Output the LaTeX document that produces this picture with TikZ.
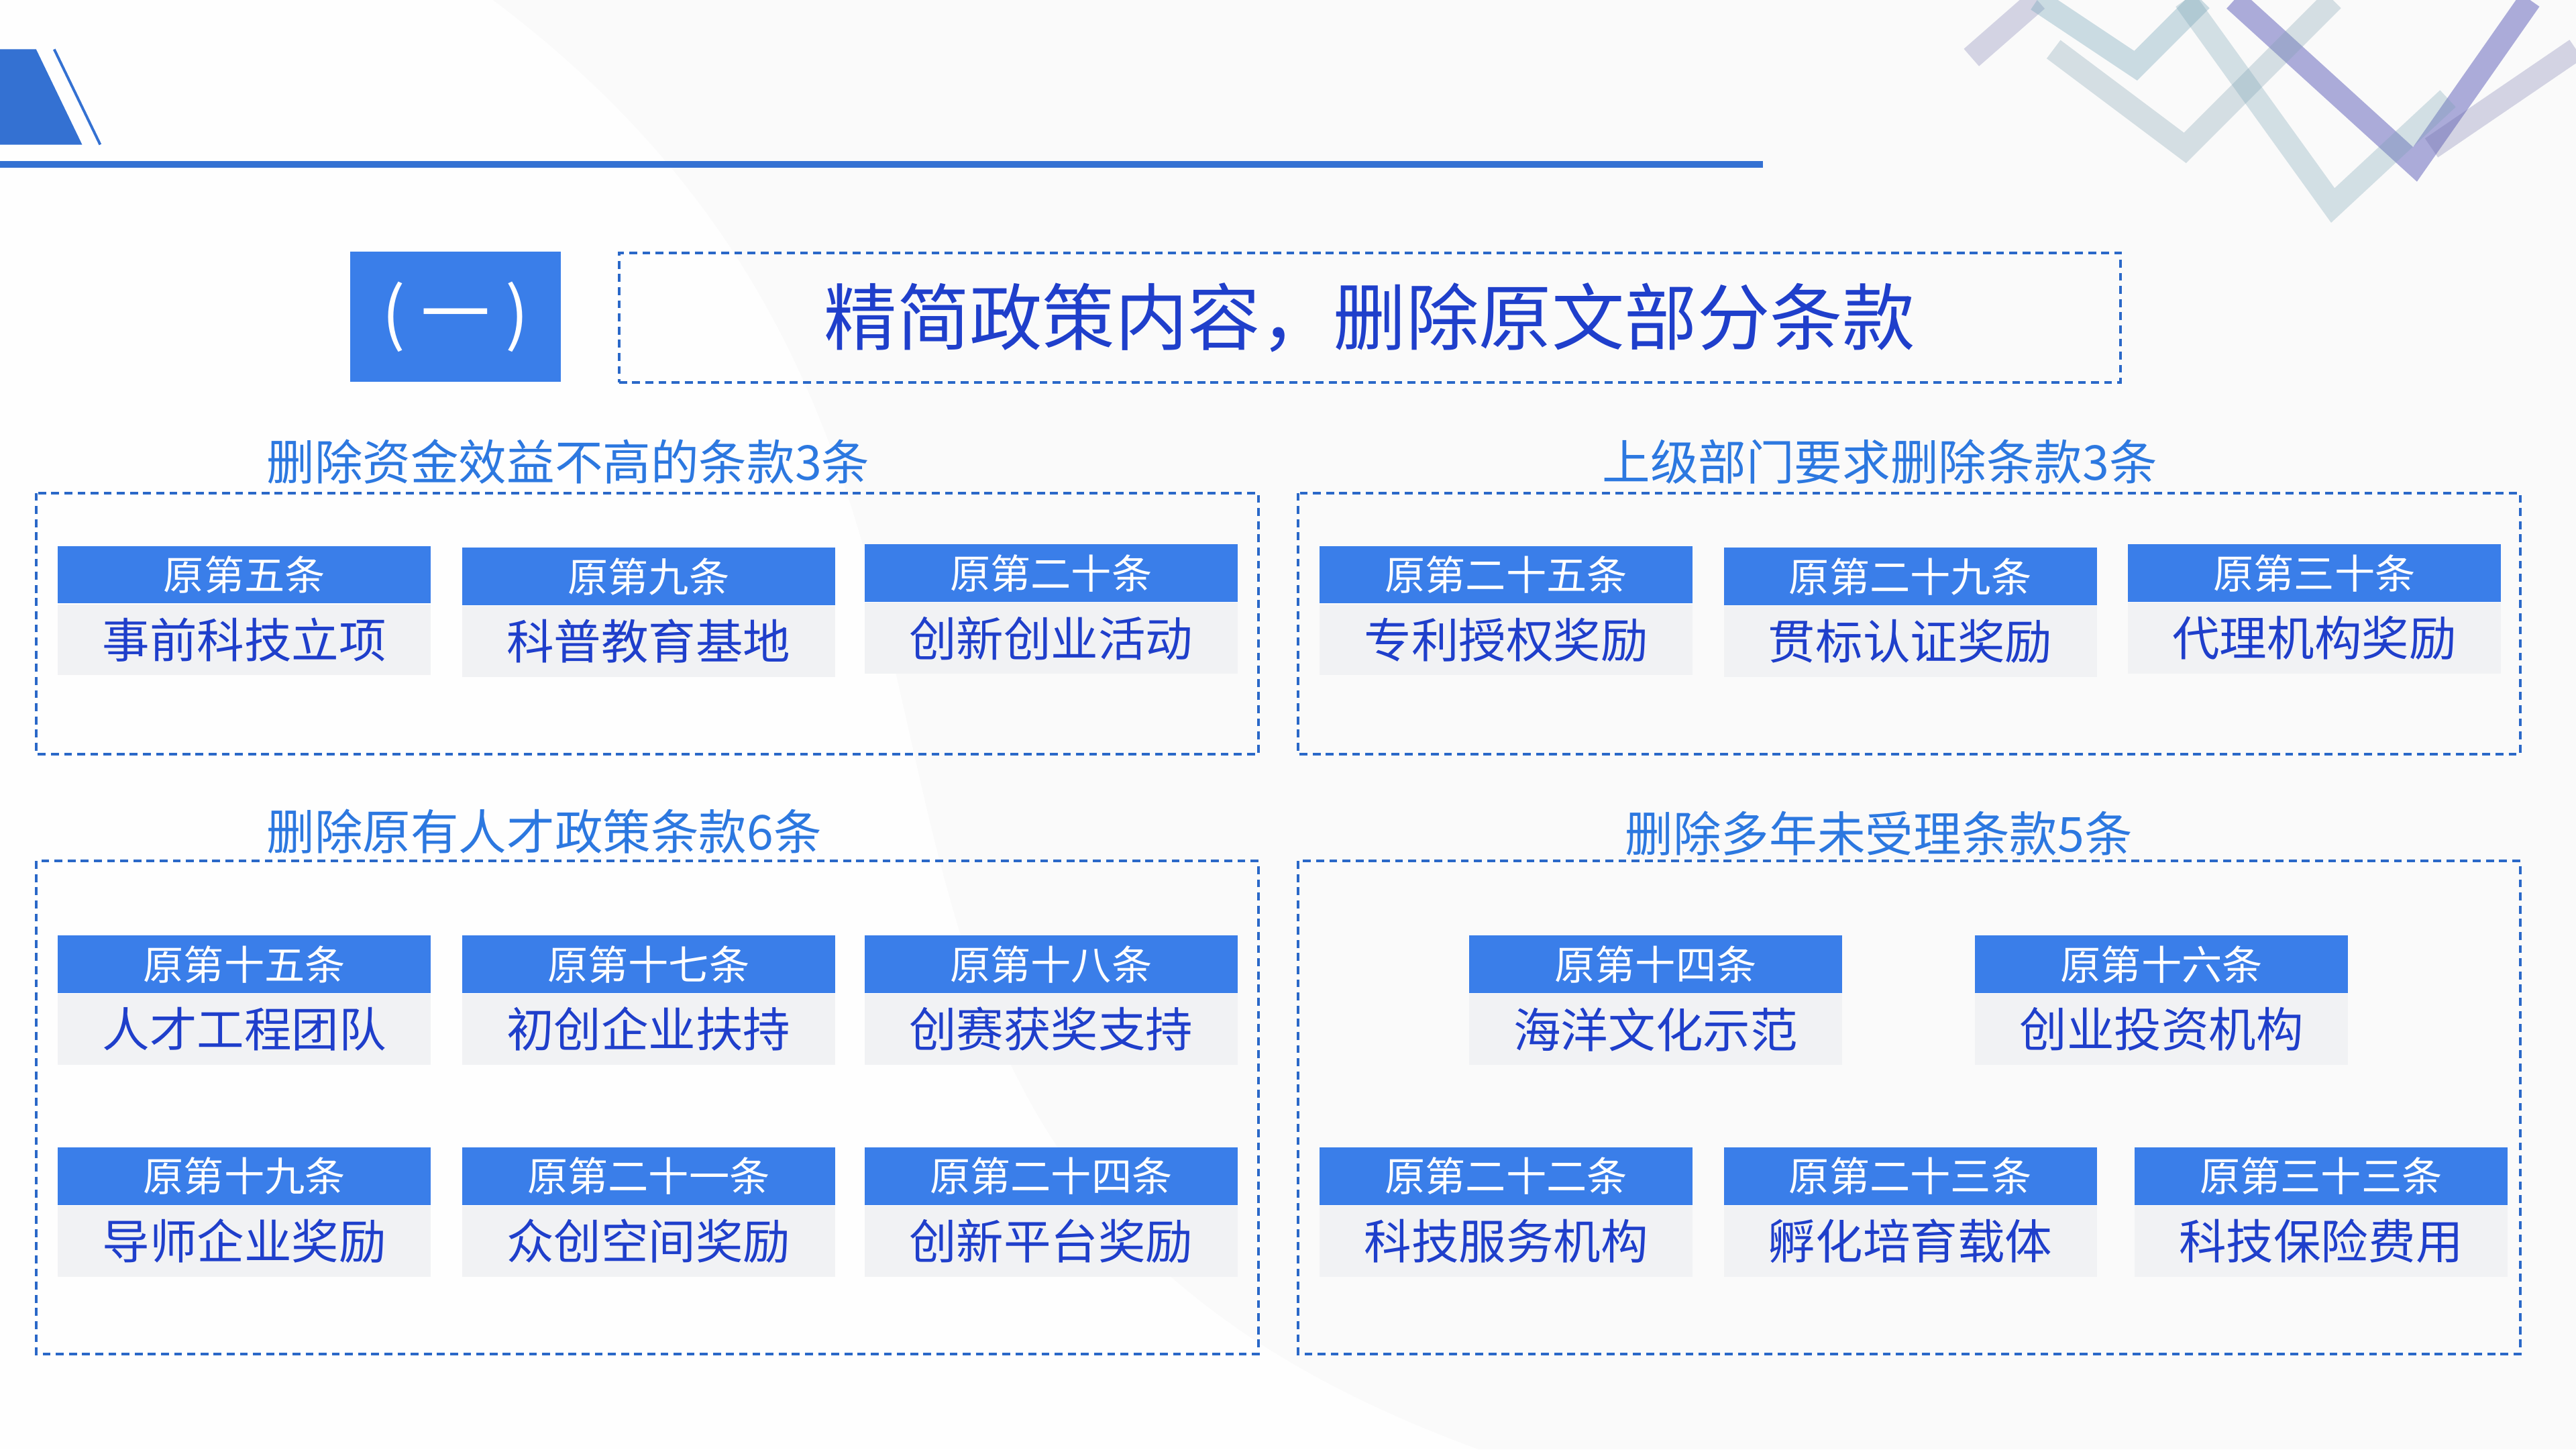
\documentclass[tikz,border=0pt]{standalone}
\usepackage{fontspec}
\setmainfont{Noto Sans CJK SC}
\usetikzlibrary{positioning}

\definecolor{hdblue}{HTML}{3A7EE9}
\definecolor{txblue}{HTML}{1F3FCB}
\definecolor{ttblue}{HTML}{2C78E0}
\definecolor{lnblue}{HTML}{2A68C8}
\definecolor{bodygray}{HTML}{F1F2F4}

\tikzset{
  clhead/.style={fill=hdblue, text=white, minimum width=56.75mm, minimum height=8.75mm,
    inner sep=0pt, font=\fontsize{17.5}{17.5}\selectfont},
  clbody/.style={fill=bodygray, text=txblue, minimum width=56.75mm, minimum height=10.75mm,
    inner sep=0pt, font=\fontsize{20.5}{20.5}\selectfont},
  group/.style={draw=lnblue, line width=0.4mm, dash pattern=on 1.2mm off 0.8mm},
  grtitle/.style={text=ttblue, anchor=west, inner sep=0pt, font=\fontsize{20.8}{20.8}\selectfont}
}

% one clause: name, position (top left), head text, body text
\newcommand{\clause}[5]{%
  \node[clhead, anchor=north west] (#1h) at (#2,#3) {#4};
  \node[clbody, below=0pt of #1h] (#1b) {#5};
}

\begin{document}
\begin{tikzpicture}[x=0.25mm, y=-0.25mm]

\useasboundingbox (0,0) rectangle (1568,882);
\fill[gray!4] (0,0) rectangle (1568,882);
\fill[white, opacity=0.8] (300,0) .. controls (700,300) and (400,700) .. (900,882) -- (0,882) -- (0,0) -- cycle;

% corner marks
\fill[hdblue!90!black] (0,30) -- (22,30) -- (50,88) -- (0,88) -- cycle;
\draw[hdblue!90!black, line width=0.4mm] (33,30) -- (61,88);
\draw[hdblue!90!black, line width=1mm] (0,100) -- (1073,100);

% top right chevrons
\draw[blue!25!gray, opacity=0.25, line width=3.5mm] (1200,35) -- (1240,0);
\draw[cyan!40!gray, opacity=0.35, line width=3.5mm] (1240,0) -- (1300,40) -- (1340,0);
\draw[blue!40!gray, opacity=0.45, line width=3.5mm] (1360,0) -- (1470,100) -- (1540,0);
\draw[cyan!30!gray, opacity=0.3, line width=3.5mm] (1250,30) -- (1330,90) -- (1420,0);
\draw[cyan!35!gray, opacity=0.3, line width=3.5mm] (1330,0) -- (1420,125) -- (1490,60);
\draw[blue!25!gray, opacity=0.25, line width=3.5mm] (1480,90) -- (1568,30);

% heading
\node[fill=hdblue, text=white, minimum width=32mm, minimum height=19.75mm, inner sep=0pt,
  anchor=north west, font=\fontsize{30}{30}\selectfont] (num) at (213,153) {( 一 )};
\node[group, minimum width=228.5mm, minimum height=19.75mm, inner sep=0pt, anchor=north west,
  text=txblue, font=\fontsize{31.5}{31.5}\selectfont] (title) at (376,153) {精简政策内容，删除原文部分条款};

% group frames
\draw[group] (22,300) rectangle (766,459);
\draw[group] (790,300) rectangle (1534,459);
\draw[group] (22,524) rectangle (766,824);
\draw[group] (790,524) rectangle (1534,824);

\node[grtitle] (g1) at (162,281) {删除资金效益不高的条款3条};
\node[grtitle] (g2) at (975,281) {上级部门要求删除条款3条};
\node[grtitle] (g3) at (162,506) {删除原有人才政策条款6条};
\node[grtitle] (g4) at (989,507) {删除多年未受理条款5条};

% group 1
\clause{a1}{35}{332}{原第五条}{事前科技立项}
\clause{a2}{281}{333}{原第九条}{科普教育基地}
\clause{a3}{526}{331}{原第二十条}{创新创业活动}
% group 2
\clause{b1}{803}{332}{原第二十五条}{专利授权奖励}
\clause{b2}{1049}{333}{原第二十九条}{贯标认证奖励}
\clause{b3}{1295}{331}{原第三十条}{代理机构奖励}
% group 3
\clause{c1}{35}{569}{原第十五条}{人才工程团队}
\clause{c2}{281}{569}{原第十七条}{初创企业扶持}
\clause{c3}{526}{569}{原第十八条}{创赛获奖支持}
\clause{c4}{35}{698}{原第十九条}{导师企业奖励}
\clause{c5}{281}{698}{原第二十一条}{众创空间奖励}
\clause{c6}{526}{698}{原第二十四条}{创新平台奖励}
% group 4
\clause{d1}{894}{569}{原第十四条}{海洋文化示范}
\clause{d2}{1202}{569}{原第十六条}{创业投资机构}
\clause{d3}{803}{698}{原第二十二条}{科技服务机构}
\clause{d4}{1049}{698}{原第二十三条}{孵化培育载体}
\clause{d5}{1299}{698}{原第三十三条}{科技保险费用}

\end{tikzpicture}
\end{document}
